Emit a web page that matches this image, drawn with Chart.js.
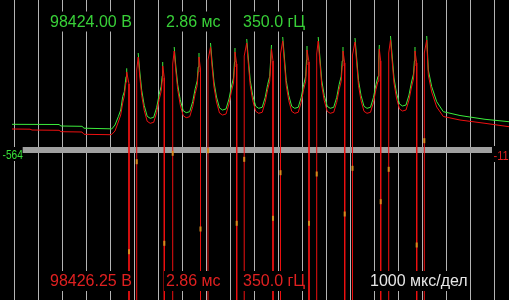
<!DOCTYPE html>
<html>
<head>
<meta charset="utf-8">
<script src="https://cdn.jsdelivr.net/npm/chart.js@4.4.0/dist/chart.umd.min.js"></script>
<style>
  html, body { margin: 0; padding: 0; background: #000; }
  canvas { display: block; }
</style>
</head>
<body>
<canvas id="scope" width="509" height="300"></canvas>
<script>
// time in ms (1000 мкс/дел), level in screen counts (0 = reference level)
var divisions = [0, 1, 2, 3, 4, 5, 6, 7, 8, 9, 10, 11, 12, 13, 14, 15, 16, 17, 18, 19, 20];

var times = [
  -0.083, 0.667, 0.75, 1.875, 1.958, 2.833, 2.917, 4.0, 4.071, 4.208, 4.346, 4.446, 4.529, 4.596, 4.667,
  4.696, 4.792, 4.792, 5.113, 5.113, 5.175, 5.238, 5.321, 5.425, 5.55, 5.675, 5.821, 5.946, 6.05, 6.133, 6.175,
  6.196, 6.263, 6.263, 6.613, 6.613, 6.675, 6.738, 6.821, 6.925, 7.05, 7.175, 7.321, 7.446, 7.55, 7.633, 7.675,
  7.708, 7.771, 7.771, 8.083, 8.083, 8.188, 8.25, 8.333, 8.438, 8.563, 8.688, 8.833, 8.958, 9.063, 9.146, 9.188,
  9.208, 9.279, 9.279, 9.592, 9.592, 9.696, 9.758, 9.842, 9.946, 10.071, 10.196, 10.342, 10.467, 10.571, 10.654, 10.696,
  10.729, 10.792, 10.792, 11.104, 11.104, 11.196, 11.258, 11.342, 11.446, 11.571, 11.696, 11.842, 11.967, 12.071, 12.154, 12.188,
  12.208, 12.292, 12.292, 12.613, 12.613, 12.675, 12.738, 12.821, 12.925, 13.05, 13.175, 13.321, 13.446, 13.55, 13.633, 13.675,
  13.708, 13.779, 13.779, 14.104, 14.104, 14.208, 14.271, 14.354, 14.458, 14.583, 14.708, 14.854, 14.979, 15.083, 15.167, 15.2,
  15.221, 15.279, 15.279, 15.613, 15.613, 15.688, 15.75, 15.833, 15.938, 16.063, 16.188, 16.333, 16.458, 16.563, 16.646, 16.683,
  16.708, 16.779, 16.779, 17.096, 17.096, 17.196, 17.263, 17.404, 17.613, 17.888, 18.583, 19.625, 20.625
];

var green = [
  25.7, 25.6, 25.6, 25.5, 24, 23.7, 21.8, 21.2, 21, 25, 33.3, 40, 53.3, 58.3, 73.3,
  81.7, null, null, null, null, 97, 79, 59.7, 44.7, 33.7, 31.7, 32.7, 42.7, 55.7, 63.7, 74,
  88, null, null, null, null, 103, 85, 65.3, 50.3, 39.3, 37.3, 38.3, 48.3, 61.3, 69.3, 83,
  97, null, null, null, null, 107, 89, 68, 53, 42, 40, 41, 51, 64, 72, 88,
  102, null, null, null, null, 111, 93, 69.7, 54.7, 43.7, 41.7, 42.7, 52.7, 65.7, 73.7, 91,
  105, null, null, null, null, 113, 95, 69.7, 54.7, 43.7, 41.7, 42.7, 52.7, 65.7, 73.7, 90,
  104, null, null, null, null, 113, 95, 69.7, 54.7, 43.7, 41.7, 42.7, 52.7, 65.7, 73.7, 89,
  103, null, null, null, null, 112, 94, 69.7, 54.7, 43.7, 41.7, 42.7, 52.7, 65.7, 73.7, 91,
  105, null, null, null, null, 114, 96, 72, 57, 46, 44, 45, 55, 68, 76, 89,
  103, null, null, null, null, 114, 80, 63.3, 48.3, 38.3, 34.5, 30.7, 28.3
];

var red = [
  21, 20.8, 20, 19.7, 18.3, 18, 15.7, 15.3, 15.5, 19, 28, 35, 47, 54, 68,
  78, 66, -200, -200, 80, 93, 74, 54.7, 39.7, 28.7, 26.7, 27.7, 37.7, 50.7, 58.7, 69,
  84, 72, -200, -200, 86, 99, 80, 60.3, 45.3, 34.3, 32.3, 33.3, 43.3, 56.3, 64.3, 78,
  93, 81, -200, -200, 90, 103, 84, 63, 48, 37, 35, 36, 46, 59, 67, 83,
  98, 86, -200, -200, 94, 107, 88, 64.7, 49.7, 38.7, 36.7, 37.7, 47.7, 60.7, 68.7, 86,
  101, 89, -200, -200, 96, 109, 90, 64.7, 49.7, 38.7, 36.7, 37.7, 47.7, 60.7, 68.7, 85,
  100, 88, -200, -200, 96, 109, 90, 64.7, 49.7, 38.7, 36.7, 37.7, 47.7, 60.7, 68.7, 84,
  99, 87, -200, -200, 95, 108, 89, 64.7, 49.7, 38.7, 36.7, 37.7, 47.7, 60.7, 68.7, 86,
  101, 89, -200, -200, 97, 110, 91, 67, 52, 41, 39, 40, 50, 63, 71, 84,
  99, 87, -200, -200, 97, 110, 75, 58, 43, 33.5, 30, 26.7, 23.3
];

// lowest points of the green trace in each dip
var tipTimes = [4.792, 5.113, 6.263, 6.613, 7.771, 8.083, 9.279, 9.592, 10.792, 11.104,
  12.292, 12.613, 13.779, 14.104, 15.279, 15.613, 16.779, 17.096];
var tipLevels = [-101.7, -11.7, -93.3, -3.3, -79, -0.7, -73.3, -9.3, -68.3, -22.7,
  -73.3, -24, -64, -18.3, -51.7, -19.3, -95, 9.3];

var levelSpan = [0.362, 19.946];
var levelLabels = ['-564', '-11'];
var topLabels = ['98424.00 В', '2.86 мс', '350.0 гЦ'];
var bottomLabels = ['98426.25 В', '2.86 мс', '350.0 гЦ'];
var timebaseLabel = '1000 мкс/дел';

function pts(xs, ys) {
  return xs.map(function (x, i) { return { x: x, y: ys[i] }; });
}

var scopeText = {
  id: 'scopeText',
  afterDraw: function (chart) {
    var c = chart.ctx;
    c.save();
    c.font = '16px "Liberation Sans", Arial, sans-serif';
    function label(txt, x, y, color) {
      var w = c.measureText(txt).width;
      c.fillStyle = '#000';
      c.fillRect(x - 2, y - 15, w + 4, 20);
      c.fillStyle = color;
      c.fillText(txt, x, y);
    }
    var cols = [50, 166, 243];
    topLabels.forEach(function (t, i) { label(t, cols[i], 26.5, '#38d038'); });
    bottomLabels.forEach(function (t, i) { label(t, cols[i], 286, '#e02020'); });
    label(timebaseLabel, 370, 286, '#e6e6e6');

    // reference level markers, narrow font
    c.font = '13px "Liberation Sans", Arial, sans-serif';
    c.fillStyle = '#000';
    c.fillRect(0, 147, 22, 14);
    c.fillRect(492, 146, 17, 16);
    c.save();
    c.translate(2.5, 158.5);
    c.scale(0.78, 1);
    c.fillStyle = '#38e038';
    c.fillText(levelLabels[0], 0, 0);
    c.restore();
    c.save();
    c.translate(493.5, 160);
    c.scale(0.85, 1);
    c.fillStyle = '#e02020';
    c.fillText(levelLabels[1], 0, 0);
    c.restore();
    c.restore();
  }
};

new Chart(document.getElementById('scope'), {
  type: 'line',
  data: {
    datasets: [
      {
        label: 'tips',
        data: pts(tipTimes, tipLevels),
        showLine: false,
        pointStyle: 'line',
        pointRotation: 90,
        pointRadius: 2.5,
        pointBorderWidth: 2,
        pointBorderColor: '#d88a1c',
        order: 0
      },
      {
        label: 'red',
        data: pts(times, red),
        borderColor: '#ee1010',
        borderWidth: 1,
        order: 1
      },
      {
        label: 'green',
        data: pts(times, green),
        borderColor: '#3cec3c',
        borderWidth: 1,
        order: 2
      },
      {
        label: 'level',
        data: pts(levelSpan, [0, 0]),
        borderColor: '#a0a0a0',
        borderWidth: 6,
        borderCapStyle: 'butt',
        order: 3
      }
    ]
  },
  options: {
    responsive: false,
    animation: false,
    devicePixelRatio: 1,
    layout: { padding: 0, autoPadding: false },
    elements: {
      point: { radius: 0 },
      line: { tension: 0, borderJoinStyle: 'bevel' }
    },
    plugins: {
      legend: { display: false },
      tooltip: { enabled: false }
    },
    scales: {
      x: {
        type: 'linear',
        min: -14 / 24,
        max: 495 / 24,
        afterBuildTicks: function (scale) {
          scale.ticks = divisions.map(function (v) { return { value: v }; });
        },
        ticks: { display: false },
        grid: { color: '#b4b4b4', lineWidth: 1, drawTicks: false },
        border: { display: false }
      },
      y: {
        min: -150,
        max: 150,
        display: false
      }
    }
  },
  plugins: [scopeText]
});
</script>
</body>
</html>
